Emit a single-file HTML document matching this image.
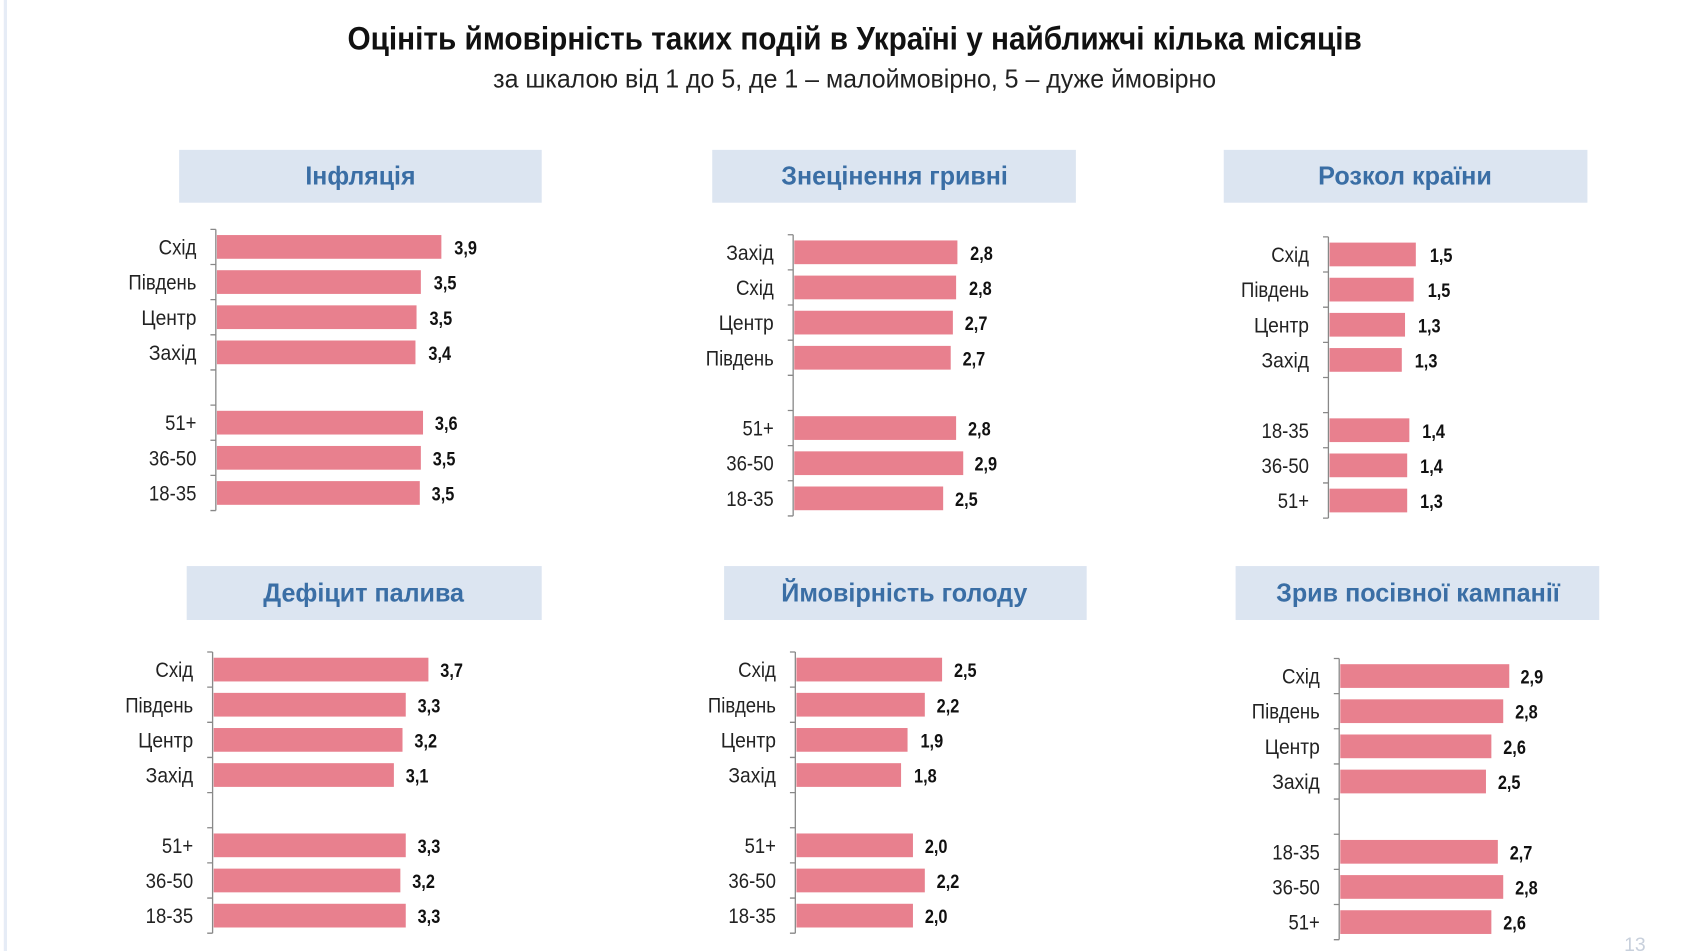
<!DOCTYPE html>
<html><head><meta charset="utf-8"><style>
html,body{margin:0;padding:0;background:#fff;width:1691px;height:951px;overflow:hidden}
svg{display:block}
.t{font-family:"Liberation Sans",sans-serif}
.lab{font-size:20px;fill:#222;text-anchor:end}
.val{font-size:18px;font-weight:bold;fill:#111}
.hd{font-family:"Liberation Sans",sans-serif;font-size:24px;font-weight:bold;fill:#3a6ea5;text-anchor:middle}
.b{fill:#e8808e}
.ax{stroke:#888;stroke-width:1.2;fill:none}
</style></head><body>
<svg width="1691" height="951" viewBox="0 0 1567 882" preserveAspectRatio="none">
<rect x="0" y="0" width="1567" height="882" fill="#fff"/>
<line x1="5" y1="0" x2="5" y2="882" stroke="#e6ecf6" stroke-width="3"/>
<text class="t" x="792" y="46" font-size="30" font-weight="bold" fill="#111" text-anchor="middle" textLength="940" lengthAdjust="spacingAndGlyphs">Оцініть ймовірність таких подій в Україні у найближчі кілька місяців</text>
<text class="t" x="792" y="81" font-size="24" fill="#222" text-anchor="middle" textLength="670" lengthAdjust="spacingAndGlyphs">за шкалою від 1 до 5, де 1 – малоймовірно, 5 – дуже ймовірно</text>

<rect x="166" y="139" width="336" height="49" fill="#dce5f1"/>
<text class="hd" x="334" y="171" textLength="102" lengthAdjust="spacingAndGlyphs">Інфляція</text>
<rect x="660" y="139" width="337" height="49" fill="#dce5f1"/>
<text class="hd" x="829" y="171" textLength="210" lengthAdjust="spacingAndGlyphs">Знецінення гривні</text>
<rect x="1134" y="139" width="337" height="49" fill="#dce5f1"/>
<text class="hd" x="1302" y="171" textLength="161" lengthAdjust="spacingAndGlyphs">Розкол країни</text>
<rect x="173" y="525" width="329" height="50" fill="#dce5f1"/>
<text class="hd" x="337" y="558" textLength="186" lengthAdjust="spacingAndGlyphs">Дефіцит палива</text>
<rect x="671" y="525" width="336" height="50" fill="#dce5f1"/>
<text class="hd" x="838" y="558" textLength="228" lengthAdjust="spacingAndGlyphs">Ймовірність голоду</text>
<rect x="1145" y="525" width="337" height="50" fill="#dce5f1"/>
<text class="hd" x="1314" y="558" textLength="263" lengthAdjust="spacingAndGlyphs">Зрив посівної кампанії</text>

<defs>
<g id="axis">
<path class="ax" d="M0,-16.3V244.5 M-5,-16.3H0 M-5,16.3H0 M-5,48.9H0 M-5,81.5H0 M-5,114.1H0 M-5,146.7H0 M-5,179.3H0 M-5,211.9H0 M-5,244.5H0"/>
</g>
</defs>

<g transform="translate(200,229)" class="t">
<use href="#axis"/>
<rect class="b" x="1" y="-11" width="208" height="22"/><text class="lab" x="-18" y="7" textLength="35" lengthAdjust="spacingAndGlyphs">Схід</text><text class="val" x="221" y="7" textLength="21" lengthAdjust="spacingAndGlyphs">3,9</text>
<rect class="b" x="1" y="21.6" width="189" height="22"/><text class="lab" x="-18" y="39.6" textLength="63" lengthAdjust="spacingAndGlyphs">Південь</text><text class="val" x="202" y="39.6" textLength="21" lengthAdjust="spacingAndGlyphs">3,5</text>
<rect class="b" x="1" y="54.2" width="185" height="22"/><text class="lab" x="-18" y="72.2" textLength="51" lengthAdjust="spacingAndGlyphs">Центр</text><text class="val" x="198" y="72.2" textLength="21" lengthAdjust="spacingAndGlyphs">3,5</text>
<rect class="b" x="1" y="86.8" width="184" height="22"/><text class="lab" x="-18" y="104.8" textLength="44" lengthAdjust="spacingAndGlyphs">Захід</text><text class="val" x="197" y="104.8" textLength="21" lengthAdjust="spacingAndGlyphs">3,4</text>
<rect class="b" x="1" y="152" width="191" height="22"/><text class="lab" x="-18" y="170" textLength="29" lengthAdjust="spacingAndGlyphs">51+</text><text class="val" x="203" y="170" textLength="21" lengthAdjust="spacingAndGlyphs">3,6</text>
<rect class="b" x="1" y="184.6" width="189" height="22"/><text class="lab" x="-18" y="202.6" textLength="44" lengthAdjust="spacingAndGlyphs">36-50</text><text class="val" x="201" y="202.6" textLength="21" lengthAdjust="spacingAndGlyphs">3,5</text>
<rect class="b" x="1" y="217.2" width="188" height="22"/><text class="lab" x="-18" y="235.2" textLength="44" lengthAdjust="spacingAndGlyphs">18-35</text><text class="val" x="200" y="235.2" textLength="21" lengthAdjust="spacingAndGlyphs">3,5</text>
</g>

<g transform="translate(735,234)" class="t">
<use href="#axis"/>
<rect class="b" x="1" y="-11" width="151.2" height="22"/><text class="lab" x="-18" y="7" textLength="44" lengthAdjust="spacingAndGlyphs">Захід</text><text class="val" x="164" y="7" textLength="21" lengthAdjust="spacingAndGlyphs">2,8</text>
<rect class="b" x="1" y="21.6" width="150" height="22"/><text class="lab" x="-18" y="39.6" textLength="35" lengthAdjust="spacingAndGlyphs">Схід</text><text class="val" x="163" y="39.6" textLength="21" lengthAdjust="spacingAndGlyphs">2,8</text>
<rect class="b" x="1" y="54.2" width="147" height="22"/><text class="lab" x="-18" y="72.2" textLength="51" lengthAdjust="spacingAndGlyphs">Центр</text><text class="val" x="159" y="72.2" textLength="21" lengthAdjust="spacingAndGlyphs">2,7</text>
<rect class="b" x="1" y="86.8" width="145" height="22"/><text class="lab" x="-18" y="104.8" textLength="63" lengthAdjust="spacingAndGlyphs">Південь</text><text class="val" x="157" y="104.8" textLength="21" lengthAdjust="spacingAndGlyphs">2,7</text>
<rect class="b" x="1" y="152" width="150" height="22"/><text class="lab" x="-18" y="170" textLength="29" lengthAdjust="spacingAndGlyphs">51+</text><text class="val" x="162" y="170" textLength="21" lengthAdjust="spacingAndGlyphs">2,8</text>
<rect class="b" x="1" y="184.6" width="156.6" height="22"/><text class="lab" x="-18" y="202.6" textLength="44" lengthAdjust="spacingAndGlyphs">36-50</text><text class="val" x="168" y="202.6" textLength="21" lengthAdjust="spacingAndGlyphs">2,9</text>
<rect class="b" x="1" y="217.2" width="138" height="22"/><text class="lab" x="-18" y="235.2" textLength="44" lengthAdjust="spacingAndGlyphs">18-35</text><text class="val" x="150" y="235.2" textLength="21" lengthAdjust="spacingAndGlyphs">2,5</text>
</g>

<g transform="translate(1231,236)" class="t">
<use href="#axis"/>
<rect class="b" x="1" y="-11" width="80" height="22"/><text class="lab" x="-18" y="7" textLength="35" lengthAdjust="spacingAndGlyphs">Схід</text><text class="val" x="94" y="7" textLength="21" lengthAdjust="spacingAndGlyphs">1,5</text>
<rect class="b" x="1" y="21.6" width="78" height="22"/><text class="lab" x="-18" y="39.6" textLength="63" lengthAdjust="spacingAndGlyphs">Південь</text><text class="val" x="92" y="39.6" textLength="21" lengthAdjust="spacingAndGlyphs">1,5</text>
<rect class="b" x="1" y="54.2" width="70" height="22"/><text class="lab" x="-18" y="72.2" textLength="51" lengthAdjust="spacingAndGlyphs">Центр</text><text class="val" x="83" y="72.2" textLength="21" lengthAdjust="spacingAndGlyphs">1,3</text>
<rect class="b" x="1" y="86.8" width="67" height="22"/><text class="lab" x="-18" y="104.8" textLength="44" lengthAdjust="spacingAndGlyphs">Захід</text><text class="val" x="80" y="104.8" textLength="21" lengthAdjust="spacingAndGlyphs">1,3</text>
<rect class="b" x="1" y="152" width="74" height="22"/><text class="lab" x="-18" y="170" textLength="44" lengthAdjust="spacingAndGlyphs">18-35</text><text class="val" x="87" y="170" textLength="21" lengthAdjust="spacingAndGlyphs">1,4</text>
<rect class="b" x="1" y="184.6" width="72" height="22"/><text class="lab" x="-18" y="202.6" textLength="44" lengthAdjust="spacingAndGlyphs">36-50</text><text class="val" x="85" y="202.6" textLength="21" lengthAdjust="spacingAndGlyphs">1,4</text>
<rect class="b" x="1" y="217.2" width="72" height="22"/><text class="lab" x="-18" y="235.2" textLength="29" lengthAdjust="spacingAndGlyphs">51+</text><text class="val" x="85" y="235.2" textLength="21" lengthAdjust="spacingAndGlyphs">1,3</text>
</g>

<g transform="translate(197,621)" class="t">
<use href="#axis"/>
<rect class="b" x="1" y="-11" width="199" height="22"/><text class="lab" x="-18" y="7" textLength="35" lengthAdjust="spacingAndGlyphs">Схід</text><text class="val" x="211" y="7" textLength="21" lengthAdjust="spacingAndGlyphs">3,7</text>
<rect class="b" x="1" y="21.6" width="178" height="22"/><text class="lab" x="-18" y="39.6" textLength="63" lengthAdjust="spacingAndGlyphs">Південь</text><text class="val" x="190" y="39.6" textLength="21" lengthAdjust="spacingAndGlyphs">3,3</text>
<rect class="b" x="1" y="54.2" width="175" height="22"/><text class="lab" x="-18" y="72.2" textLength="51" lengthAdjust="spacingAndGlyphs">Центр</text><text class="val" x="187" y="72.2" textLength="21" lengthAdjust="spacingAndGlyphs">3,2</text>
<rect class="b" x="1" y="86.8" width="167" height="22"/><text class="lab" x="-18" y="104.8" textLength="44" lengthAdjust="spacingAndGlyphs">Захід</text><text class="val" x="179" y="104.8" textLength="21" lengthAdjust="spacingAndGlyphs">3,1</text>
<rect class="b" x="1" y="152" width="178" height="22"/><text class="lab" x="-18" y="170" textLength="29" lengthAdjust="spacingAndGlyphs">51+</text><text class="val" x="190" y="170" textLength="21" lengthAdjust="spacingAndGlyphs">3,3</text>
<rect class="b" x="1" y="184.6" width="173" height="22"/><text class="lab" x="-18" y="202.6" textLength="44" lengthAdjust="spacingAndGlyphs">36-50</text><text class="val" x="185" y="202.6" textLength="21" lengthAdjust="spacingAndGlyphs">3,2</text>
<rect class="b" x="1" y="217.2" width="178" height="22"/><text class="lab" x="-18" y="235.2" textLength="44" lengthAdjust="spacingAndGlyphs">18-35</text><text class="val" x="190" y="235.2" textLength="21" lengthAdjust="spacingAndGlyphs">3,3</text>
</g>

<g transform="translate(737,621)" class="t">
<use href="#axis"/>
<rect class="b" x="1" y="-11" width="135" height="22"/><text class="lab" x="-18" y="7" textLength="35" lengthAdjust="spacingAndGlyphs">Схід</text><text class="val" x="147" y="7" textLength="21" lengthAdjust="spacingAndGlyphs">2,5</text>
<rect class="b" x="1" y="21.6" width="119" height="22"/><text class="lab" x="-18" y="39.6" textLength="63" lengthAdjust="spacingAndGlyphs">Південь</text><text class="val" x="131" y="39.6" textLength="21" lengthAdjust="spacingAndGlyphs">2,2</text>
<rect class="b" x="1" y="54.2" width="103" height="22"/><text class="lab" x="-18" y="72.2" textLength="51" lengthAdjust="spacingAndGlyphs">Центр</text><text class="val" x="116" y="72.2" textLength="21" lengthAdjust="spacingAndGlyphs">1,9</text>
<rect class="b" x="1" y="86.8" width="97" height="22"/><text class="lab" x="-18" y="104.8" textLength="44" lengthAdjust="spacingAndGlyphs">Захід</text><text class="val" x="110" y="104.8" textLength="21" lengthAdjust="spacingAndGlyphs">1,8</text>
<rect class="b" x="1" y="152" width="108" height="22"/><text class="lab" x="-18" y="170" textLength="29" lengthAdjust="spacingAndGlyphs">51+</text><text class="val" x="120" y="170" textLength="21" lengthAdjust="spacingAndGlyphs">2,0</text>
<rect class="b" x="1" y="184.6" width="119" height="22"/><text class="lab" x="-18" y="202.6" textLength="44" lengthAdjust="spacingAndGlyphs">36-50</text><text class="val" x="131" y="202.6" textLength="21" lengthAdjust="spacingAndGlyphs">2,2</text>
<rect class="b" x="1" y="217.2" width="108" height="22"/><text class="lab" x="-18" y="235.2" textLength="44" lengthAdjust="spacingAndGlyphs">18-35</text><text class="val" x="120" y="235.2" textLength="21" lengthAdjust="spacingAndGlyphs">2,0</text>
</g>

<g transform="translate(1241,627)" class="t">
<use href="#axis"/>
<rect class="b" x="1" y="-11" width="156.6" height="22"/><text class="lab" x="-18" y="7" textLength="35" lengthAdjust="spacingAndGlyphs">Схід</text><text class="val" x="168" y="7" textLength="21" lengthAdjust="spacingAndGlyphs">2,9</text>
<rect class="b" x="1" y="21.6" width="151" height="22"/><text class="lab" x="-18" y="39.6" textLength="63" lengthAdjust="spacingAndGlyphs">Південь</text><text class="val" x="163" y="39.6" textLength="21" lengthAdjust="spacingAndGlyphs">2,8</text>
<rect class="b" x="1" y="54.2" width="140" height="22"/><text class="lab" x="-18" y="72.2" textLength="51" lengthAdjust="spacingAndGlyphs">Центр</text><text class="val" x="152" y="72.2" textLength="21" lengthAdjust="spacingAndGlyphs">2,6</text>
<rect class="b" x="1" y="86.8" width="135" height="22"/><text class="lab" x="-18" y="104.8" textLength="44" lengthAdjust="spacingAndGlyphs">Захід</text><text class="val" x="147" y="104.8" textLength="21" lengthAdjust="spacingAndGlyphs">2,5</text>
<rect class="b" x="1" y="152" width="146" height="22"/><text class="lab" x="-18" y="170" textLength="44" lengthAdjust="spacingAndGlyphs">18-35</text><text class="val" x="158" y="170" textLength="21" lengthAdjust="spacingAndGlyphs">2,7</text>
<rect class="b" x="1" y="184.6" width="151" height="22"/><text class="lab" x="-18" y="202.6" textLength="44" lengthAdjust="spacingAndGlyphs">36-50</text><text class="val" x="163" y="202.6" textLength="21" lengthAdjust="spacingAndGlyphs">2,8</text>
<rect class="b" x="1" y="217.2" width="140" height="22"/><text class="lab" x="-18" y="235.2" textLength="29" lengthAdjust="spacingAndGlyphs">51+</text><text class="val" x="152" y="235.2" textLength="21" lengthAdjust="spacingAndGlyphs">2,6</text>
</g>

<text class="t" x="1515" y="882" font-size="18" fill="#c8d0dc" text-anchor="middle">13</text>
</svg>
</body></html>
